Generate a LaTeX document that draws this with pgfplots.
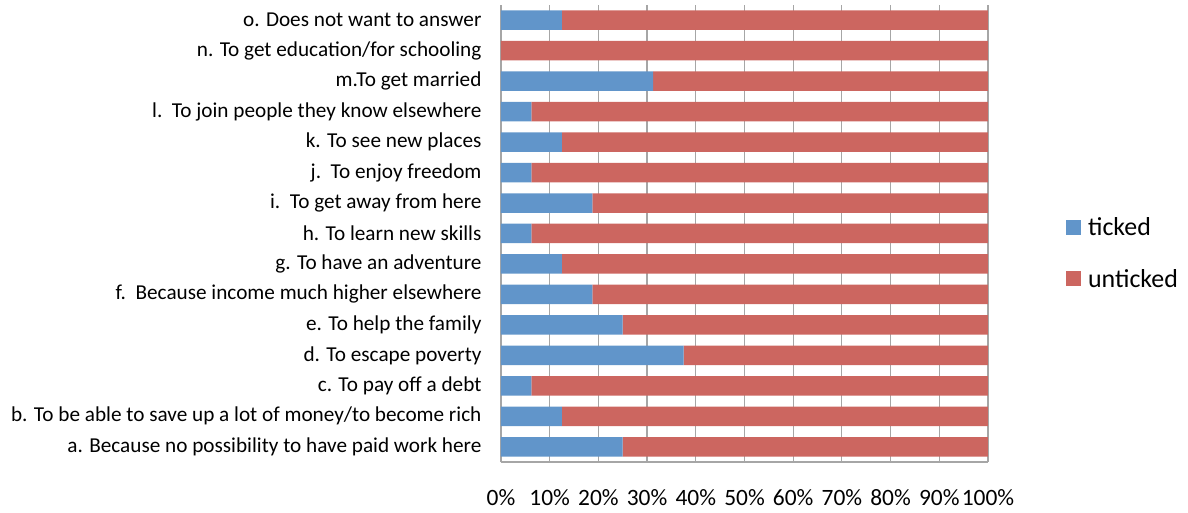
\documentclass[border=0pt]{standalone}
\usepackage{fontspec}
\setmainfont{Carlito}
\usepackage{pgfplots}
\pgfplotsset{compat=1.18}
\definecolor{tickblue}{HTML}{6195CA}
\definecolor{untickred}{HTML}{CC6660}
\definecolor{gridgray}{HTML}{A6A6A6}
\begin{document}
\begin{tikzpicture}
\useasboundingbox (-501bp,-51bp) rectangle (687bp,462bp);
\begin{axis}[
  scale only axis,
  width=487bp, height=457bp,
  xbar stacked,
  bar width=19.5bp,
  xmin=0, xmax=100,
  ymin=-0.5, ymax=14.5,
  xtick={0,10,...,100},
  xticklabels={0\%,10\%,20\%,30\%,40\%,50\%,60\%,70\%,80\%,90\%,100\%},
  ytick={0,...,14},
  yticklabels={
    a. Because no possibility to have paid work here,
    b. To be able to save up a lot of money/to become rich,
    c. To pay off a debt,
    d. To escape poverty,
    e. To help the family,
    f.\ \ Because income much higher elsewhere,
    g. To have an adventure,
    h. To learn new skills,
    i.\ \ To get away from here,
    j.\ \ To enjoy freedom,
    k. To see new places,
    l.\ \ To join people they know elsewhere,
    m.To get married,
    n. To get education/for schooling,
    o. Does not want to answer},
  major tick length=0pt,
  xmajorgrids=true,
  grid style={gridgray, line width=1.2bp},
  axis lines*=left,
  axis line style={gridgray, line width=1.2bp},
  yticklabel style={font=\fontsize{21.3}{24}\selectfont, xshift=-16bp},
  xticklabel style={font=\fontsize{23.5}{27}\selectfont, yshift=-24bp},
  legend style={draw=none, fill=none, at={(1.160,0.457)}, anchor=west,
    font=\fontsize{26}{30}\selectfont, row sep=28bp, inner sep=0pt},
  legend cell align=left,
  legend image code/.code={\fill[#1] (0bp,-7.5bp) rectangle (15bp,7.5bp);
    \path (20bp,0bp);},
]
\addplot[fill=tickblue, draw=none] coordinates {
  (25,0) (12.5,1) (6.25,2) (37.5,3) (25,4) (18.75,5) (12.5,6) (6.25,7)
  (18.75,8) (6.25,9) (12.5,10) (6.25,11) (31.25,12) (0,13) (12.5,14)
};
\addplot[fill=untickred, draw=none] coordinates {
  (75,0) (87.5,1) (93.75,2) (62.5,3) (75,4) (81.25,5) (87.5,6) (93.75,7)
  (81.25,8) (93.75,9) (87.5,10) (93.75,11) (68.75,12) (100,13) (87.5,14)
};
\legend{ticked, unticked}
\end{axis}
\end{tikzpicture}
\end{document}
